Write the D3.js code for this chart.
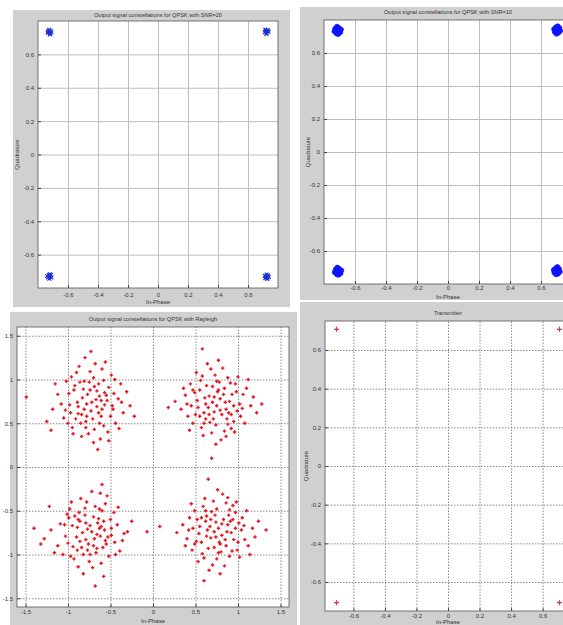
<!DOCTYPE html>
<html>
<head>
<meta charset="utf-8">
<script src="https://cdn.jsdelivr.net/npm/d3@7"></script>
<style>
  body { margin: 0; background: #fff; }
  svg { display: block; }
  text { font-family: "Liberation Sans", Arial, sans-serif; fill: #333; }
</style>
</head>
<body>
<div id="chart"></div>
<script>

/** Tick values */
const ticksSmall = [-0.6, -0.4, -0.2, 0, 0.2, 0.4, 0.6];
const ticksWide = [-1.5, -1, -0.5, 0, 0.5, 1, 1.5];

/** Titles */
const titles = [
  "Output signal constellations for QPSK with SNR=20",
  "Output signal constellations for QPSK with SNR=10",
  "Output signal constellations for QPSK with Rayleigh",
  "Transmitter"
];

/** Received symbols, SNR=20 (I, Q) */
const snr20Points = [
  [-0.728,0.735],[-0.716,0.741],[-0.722,0.726],[-0.735,0.730],[-0.711,0.732],[-0.725,0.747],[-0.719,0.720],[-0.732,0.739],
  [0.719,0.738],[0.731,0.745],[0.725,0.729],[0.712,0.733],[0.737,0.736],[0.722,0.722],[0.716,0.748],[0.729,0.741],
  [-0.727,-0.723],[-0.718,-0.731],[-0.733,-0.736],[-0.714,-0.722],[-0.724,-0.744],[-0.739,-0.728],[-0.721,-0.718],[-0.710,-0.737],
  [0.721,-0.732],[0.733,-0.725],[0.715,-0.741],[0.728,-0.746],[0.738,-0.733],[0.712,-0.727],[0.724,-0.719],[0.730,-0.738]
];

/** Received symbols, SNR=10 (I, Q) */
const snr10Points = [
  [-0.712,0.738],[-0.695,0.725],[-0.728,0.748],[-0.704,0.752],[-0.721,0.719],[-0.690,0.742],[-0.733,0.731],[-0.709,0.714],[-0.716,0.760],[-0.698,0.733],
  [0.704,0.741],[0.688,0.728],[0.719,0.752],[0.697,0.757],[0.712,0.722],[0.684,0.745],[0.724,0.734],[0.700,0.716],[0.708,0.762],[0.692,0.736],
  [-0.709,-0.722],[-0.693,-0.735],[-0.725,-0.712],[-0.702,-0.708],[-0.718,-0.741],[-0.688,-0.718],[-0.731,-0.729],[-0.706,-0.745],[-0.714,-0.700],[-0.696,-0.727],
  [0.702,-0.719],[0.686,-0.732],[0.717,-0.709],[0.695,-0.704],[0.710,-0.738],[0.682,-0.715],[0.722,-0.726],[0.698,-0.742],[0.706,-0.697],[0.690,-0.724]
];

/** Received symbols through the Rayleigh channel, one array per quadrant (I, Q) */
const rayTopLeft = [
  [-0.72,0.74],[-0.55,0.82],[-0.88,0.61],[-0.64,0.95],[-0.93,0.88],[-0.47,0.66],[-0.79,0.52],[-0.61,0.58],[-0.98,0.71],[-0.70,1.02],
  [-0.83,0.79],[-0.52,0.91],[-0.66,0.69],[-1.05,0.56],[-0.41,0.78],[-0.76,0.38],[-0.58,0.47],[-0.90,1.08],[-0.68,1.18],[-1.12,0.83],
  [-0.35,0.62],[-0.81,0.66],[-0.63,0.81],[-0.74,0.88],[-0.95,0.45],[-0.49,1.05],[-0.86,0.97],[-0.57,0.71],[-1.02,0.98],[-0.78,0.58],
  [-0.44,0.50],[-0.69,0.43],[-1.18,0.66],[-0.60,1.12],[-0.84,0.35],[-0.31,0.86],[-0.97,0.62],[-0.73,0.64],[-0.54,0.76],[-0.89,0.74],
  [-0.66,0.87],[-1.25,0.52],[-0.50,0.58],[-0.80,1.25],[-0.62,0.32],[-0.92,0.93],[-0.38,0.95],[-0.75,0.97],[-1.08,0.72],[-0.58,0.99],
  [-0.71,0.55],[-0.85,0.50],[-0.46,0.84],[-0.99,0.84],[-0.64,0.62],[-0.77,0.83],[-0.53,0.40],[-1.15,0.95],[-0.87,1.15],[-0.27,0.70],
  [-0.70,0.28],[-0.94,0.38],[-0.60,0.66],[-0.82,0.89],[-0.40,0.44],[-1.49,0.80],[-0.56,1.20],[-0.78,0.72],[-0.67,0.77],[-1.00,0.50],
  [-0.48,0.70],[-0.74,1.09],[-0.88,0.69],[-0.22,0.58],[-0.63,0.50],[-0.96,1.03],[-0.52,0.30],[-0.84,0.60],[-0.69,0.92],[-1.20,0.42],
  [-0.57,0.85],[-0.79,0.45],[-0.45,1.00],[-0.91,0.55],[-0.65,0.20],[-0.73,1.32],[-1.03,0.65],[-0.37,0.74],[-0.81,0.98],[-0.61,0.76]
];
const rayTopRight = [
  [0.70,0.74],[0.86,0.66],[0.55,0.88],[0.78,0.97],[0.62,0.55],[0.93,0.83],[0.45,0.70],[0.74,0.48],[1.02,0.72],[0.58,1.04],
  [0.81,0.60],[0.66,0.81],[0.95,0.52],[0.50,0.60],[0.88,1.02],[0.72,0.63],[0.38,0.82],[1.10,0.90],[0.63,0.93],[0.84,0.41],
  [0.57,0.45],[0.99,0.64],[0.76,0.86],[0.44,0.95],[0.90,0.75],[0.68,1.12],[1.15,0.70],[0.52,0.76],[0.80,0.31],[0.65,0.68],
  [0.97,0.95],[0.33,0.66],[0.73,1.05],[0.87,0.55],[0.60,0.62],[1.06,0.83],[0.47,0.50],[0.79,0.78],[0.69,0.39],[1.22,0.62],
  [0.56,0.99],[0.92,0.44],[0.75,0.70],[0.41,0.58],[0.84,0.90],[0.61,0.79],[1.00,1.03],[0.71,0.55],[0.26,0.75],[0.89,0.62],
  [0.64,1.18],[1.08,0.50],[0.53,0.68],[0.77,0.88],[0.95,0.70],[0.59,0.36],[0.82,1.13],[0.36,0.90],[1.18,0.80],[0.67,0.51],
  [0.85,0.74],[0.49,0.85],[1.03,0.58],[0.74,0.26],[0.62,0.72],[0.91,0.96],[0.43,0.42],[0.79,0.65],[1.28,0.72],[0.58,1.35],
  [0.70,0.92],[0.96,0.40],[0.18,0.68],[0.83,0.83],[0.66,0.60],[1.12,1.00],[0.51,1.08],[0.88,0.49],[0.72,0.80],[0.40,0.72],
  [0.98,0.86],[0.60,0.50],[0.77,1.22],[0.47,0.88],[0.86,0.35],[1.05,0.67],[0.69,0.10],[0.55,0.58],[0.92,0.60],[0.75,0.98]
];
const rayBottomLeft = [
  [-0.72,-0.74],[-0.58,-0.62],[-0.86,-0.85],[-0.66,-0.93],[-0.95,-0.67],[-0.49,-0.78],[-0.80,-0.55],[-0.63,-0.70],[-1.03,-0.79],[-0.74,-1.00],
  [-0.55,-0.88],[-0.88,-0.60],[-0.69,-0.82],[-1.12,-0.90],[-0.42,-0.66],[-0.78,-0.40],[-0.60,-0.50],[-0.93,-1.05],[-0.71,-1.15],[-1.20,-0.72],
  [-0.36,-0.84],[-0.83,-0.75],[-0.64,-0.59],[-0.76,-0.88],[-0.98,-0.48],[-0.52,-1.02],[-0.89,-0.95],[-0.57,-0.72],[-1.06,-1.00],[-0.79,-0.64],
  [-0.46,-0.52],[-0.68,-0.45],[-1.28,-0.82],[-0.61,-1.10],[-0.85,-0.36],[-0.30,-0.74],[-0.99,-0.58],[-0.74,-0.67],[-0.53,-0.80],[-0.90,-0.80],
  [-0.67,-0.98],[-1.40,-0.70],[-0.50,-0.60],[-0.82,-1.22],[-0.62,-0.30],[-0.94,-0.91],[-0.39,-0.96],[-0.77,-0.95],[-1.09,-0.65],[-0.59,-0.92],
  [-0.70,-0.57],[-0.87,-0.52],[-0.45,-0.86],[-1.00,-0.87],[-0.65,-0.64],[-0.79,-0.83],[-0.56,-0.42],[-1.16,-0.98],[-0.88,-1.14],[-0.25,-0.62],
  [-0.72,-0.28],[-0.96,-0.40],[-0.61,-0.68],[-0.84,-0.92],[-0.41,-0.46],[-1.32,-0.88],[-0.58,-1.25],[-0.77,-0.71],[-0.66,-0.77],[-1.01,-0.54],
  [-0.49,-0.70],[-0.75,-1.08],[-0.89,-0.69],[-0.07,-0.74],[-0.63,-0.48],[-0.97,-1.02],[-0.54,-0.33],[-0.86,-0.62],[-0.70,-0.90],[-1.22,-0.45],
  [-0.56,-0.84],[-0.80,-0.47],[-0.44,-1.00],[-0.92,-0.56],[-0.60,-0.20],[-0.68,-1.36],[-1.04,-0.66],[-0.34,-0.76],[-0.82,-1.00],[-0.62,-0.79]
];
const rayBottomRight = [
  [0.72,-0.74],[0.88,-0.66],[0.57,-0.86],[0.80,-0.97],[0.63,-0.56],[0.95,-0.83],[0.47,-0.70],[0.75,-0.48],[1.04,-0.72],[0.60,-1.04],
  [0.83,-0.60],[0.68,-0.81],[0.97,-0.52],[0.52,-0.60],[0.90,-1.02],[0.74,-0.63],[0.40,-0.82],[1.12,-0.90],[0.65,-0.93],[0.86,-0.41],
  [0.59,-0.45],[1.01,-0.64],[0.78,-0.86],[0.46,-0.95],[0.92,-0.75],[0.70,-1.12],[1.17,-0.70],[0.54,-0.76],[0.82,-0.31],[0.67,-0.68],
  [0.99,-0.95],[0.35,-0.66],[0.75,-1.05],[0.89,-0.55],[0.62,-0.62],[1.08,-0.83],[0.49,-0.50],[0.81,-0.78],[0.71,-0.39],[1.24,-0.62],
  [0.58,-0.99],[0.94,-0.44],[0.77,-0.70],[0.43,-0.58],[0.86,-0.90],[0.63,-0.79],[1.02,-1.03],[0.73,-0.55],[0.28,-0.75],[0.91,-0.62],
  [0.66,-1.18],[1.10,-0.50],[0.55,-0.68],[0.79,-0.88],[0.97,-0.70],[0.61,-0.36],[0.84,-1.13],[0.38,-0.90],[1.20,-0.80],[0.69,-0.51],
  [0.87,-0.74],[0.51,-0.85],[1.05,-0.58],[0.76,-0.26],[0.64,-0.72],[0.93,-0.96],[0.45,-0.42],[0.81,-0.65],[1.33,-0.72],[0.60,-1.30],
  [0.72,-0.92],[0.98,-0.40],[0.08,-0.68],[0.85,-0.83],[0.68,-0.60],[1.14,-1.00],[0.53,-1.08],[0.90,-0.49],[0.74,-0.80],[0.42,-0.72],
  [1.00,-0.86],[0.62,-0.50],[0.79,-1.22],[0.49,-0.88],[0.88,-0.35],[1.07,-0.67],[0.65,-0.14],[0.57,-0.58],[0.94,-0.60],[0.77,-0.98]
];

/** Transmitted QPSK symbols (I, Q) */
const txPoints = [[-0.7071, 0.7071], [0.7071, 0.7071], [-0.7071, -0.7071], [0.7071, -0.7071]];

/** Panel layout (pixels) */
const panels = [
  { title: titles[0], bg: [13, 10, 277, 297], xr: [38, 278], yr: [288, 21], xd: [-0.8, 0.8], yd: [-0.8, 0.8],
    ticks: ticksSmall, yTicks: ticksSmall, titleY: 17, xLabY: 304, yLabX: 19, grid: "solid", pad: 5,
    points: snr20Points, marker: "x", color: "#1a2fd6" },
  { title: titles[1], bg: [300, 7, 280, 293], xr: [324, 572], yr: [284, 20], xd: [-0.8, 0.8], yd: [-0.8, 0.8],
    ticks: ticksSmall, yTicks: ticksSmall, titleY: 14, xLabY: 298.5, yLabX: 310, grid: "solid", pad: 2,
    points: snr10Points, marker: "o", color: "#0a14ff" },
  { title: titles[2], bg: [10, 312, 287, 320], xr: [17, 289], yr: [607, 327], xd: [-1.6, 1.6], yd: [-1.6, 1.6],
    ticks: ticksWide, yTicks: ticksWide, titleY: 321, xLabY: 623, yLabX: null, grid: "dot", pad: 3,
    points: rayTopLeft.concat(rayTopRight, rayBottomLeft, rayBottomRight), marker: "+", color: "#e8141e" },
  { title: titles[3], bg: [300, 302, 280, 330], xr: [325, 571], yr: [611, 321], xd: [-0.78, 0.78], yd: [-0.75, 0.75],
    ticks: ticksSmall, yTicks: ticksSmall, titleY: 315, xLabY: 624, yLabX: 308, grid: "dot", pad: 3,
    points: txPoints, marker: "big+", color: "#e0303a" }
];

const svg = d3.select("#chart")
  .append("svg")
  .attr("width", 563)
  .attr("height", 625)
;

panels.forEach(drawPanel);

function drawPanel(p) {
  const x = d3.scaleLinear().domain(p.xd).range(p.xr);
  const y = d3.scaleLinear().domain(p.yd).range(p.yr);
  const w = p.xr[1] - p.xr[0], h = p.yr[0] - p.yr[1];
  const fmt = d => String(d);

  /** Figure background */
  svg.append("rect")
    .attr("x", p.bg[0]).attr("y", p.bg[1])
    .attr("width", p.bg[2]).attr("height", p.bg[3])
    .attr("fill", "#d0d0d0")
  ;

  const g = svg.append("g");

  /** Axes area */
  g.append("rect")
    .attr("x", p.xr[0]).attr("y", p.yr[1])
    .attr("width", w).attr("height", h)
    .attr("fill", "#fff")
  ;

  /** Grid */
  const gridStroke = p.grid === "solid" ? "#bdbdbd" : "#8a8a8a";
  const gridDash = p.grid === "solid" ? null : "1.5,1.5";
  g.append("g")
    .attr("transform", "translate(0," + p.yr[0] + ")")
    .call(d3.axisBottom(x).tickValues(p.ticks).tickSize(-h).tickFormat(""))
    .call(s => s.select(".domain").remove())
    .selectAll("line").attr("stroke", gridStroke).attr("stroke-dasharray", gridDash)
  ;
  g.append("g")
    .attr("transform", "translate(" + p.xr[0] + ",0)")
    .call(d3.axisLeft(y).tickValues(p.yTicks).tickSize(-w).tickFormat(""))
    .call(s => s.select(".domain").remove())
    .selectAll("line").attr("stroke", gridStroke).attr("stroke-dasharray", gridDash)
  ;

  /** Tick marks and labels */
  const xAxis = g.append("g")
    .attr("transform", "translate(0," + p.yr[0] + ")")
    .call(d3.axisBottom(x).tickValues(p.ticks).tickSizeInner(-3).tickSizeOuter(0).tickPadding(p.pad).tickFormat(fmt))
  ;
  const yAxis = g.append("g")
    .attr("transform", "translate(" + p.xr[0] + ",0)")
    .call(d3.axisLeft(y).tickValues(p.yTicks).tickSizeInner(-3).tickSizeOuter(0).tickPadding(4).tickFormat(fmt))
  ;
  [xAxis, yAxis].forEach(a => {
    a.select(".domain").remove();
    a.selectAll("line").attr("stroke", "#444");
    a.selectAll("text").attr("font-size", 6).attr("fill", "#333")
      .style("font-family", "'Liberation Sans', Arial, sans-serif");
  });

  /** Box */
  g.append("rect")
    .attr("x", p.xr[0]).attr("y", p.yr[1])
    .attr("width", w).attr("height", h)
    .attr("fill", "none")
    .attr("stroke", "#555")
    .attr("stroke-width", 0.8)
  ;

  /** Points */
  const pts = g.append("g");
  if (p.marker === "o") {
    pts.selectAll("circle")
      .data(p.points).enter().append("circle")
      .attr("cx", d => x(d[0])).attr("cy", d => y(d[1]))
      .attr("r", 2.4)
      .attr("fill", p.color).attr("stroke", p.color).attr("stroke-width", 0.8)
    ;
  } else {
    const half = p.marker === "big+" ? 2.5 : p.marker === "+" ? 1.7 : 1.9;
    const shape = p.marker === "x"
      ? `M${-half},${-half}L${half},${half}M${-half},${half}L${half},${-half}`
      : `M${-half},0L${half},0M0,${-half}L0,${half}`;
    pts.selectAll("path")
      .data(p.points).enter().append("path")
      .attr("transform", d => "translate(" + x(d[0]) + "," + y(d[1]) + ")")
      .attr("d", shape)
      .attr("fill", "none")
      .attr("stroke", p.color)
      .attr("stroke-width", p.marker === "+" ? 1.3 : 1.2)
    ;
  }

  /** Title and axis labels */
  const cx = x(0);
  svg.append("text")
    .attr("x", cx).attr("y", p.titleY)
    .attr("text-anchor", "middle")
    .attr("font-size", 5.6)
    .text(p.title)
  ;
  svg.append("text")
    .attr("x", cx).attr("y", p.xLabY)
    .attr("text-anchor", "middle")
    .attr("font-size", 6)
    .text("In-Phase")
  ;
  if (p.yLabX !== null) {
    svg.append("text")
      .attr("transform", "translate(" + p.yLabX + "," + y(0) + ") rotate(-90)")
      .attr("text-anchor", "middle")
      .attr("font-size", 6)
      .text("Quadrature")
    ;
  }
}

</script>
</body>
</html>
